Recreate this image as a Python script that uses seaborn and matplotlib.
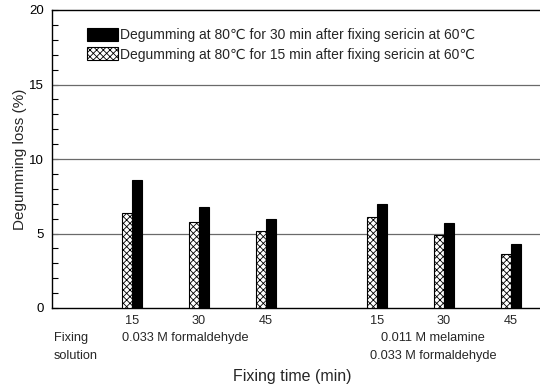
import matplotlib
matplotlib.use("Agg")
import matplotlib.pyplot as plt
import pandas as pd
import seaborn as sns
from matplotlib.patches import Patch
from matplotlib.ticker import MultipleLocator

# Fixing times (min) for the two fixing solutions
fixing_times = ["15", "30", "45", "15", "30", "45"]
# Degumming loss (%) after 15 min and 30 min of degumming
loss_15min = [6.4, 5.8, 5.2, 6.1, 4.9, 3.6]
loss_30min = [8.6, 6.8, 6.0, 7.0, 5.7, 4.3]
series_labels = [
    "Degumming at 80℃ for 15 min after fixing sericin at 60℃",
    "Degumming at 80℃ for 30 min after fixing sericin at 60℃",
]

# x positions of each bar pair (second solution group set apart)
slot = [0, 1, 2, 3.657, 4.657, 5.657]

sns.set_style("ticks")
plt.rcParams["font.family"] = ["Liberation Sans", "DejaVu Sans"]
plt.rcParams["hatch.linewidth"] = 0.6

df = pd.DataFrame({
    "slot": slot * 2,
    "loss": loss_15min + loss_30min,
    "series": [series_labels[0]] * 6 + [series_labels[1]] * 6,
})

W, H = 540, 387
fig = plt.figure(figsize=(W / 100, H / 100), dpi=100)
ax = fig.add_axes([52 / W, 1 - 308 / H, 490 / W, 298 / H])

sns.barplot(
    data=df, x="slot", y="loss", hue="series", hue_order=series_labels,
    native_scale=True, width=0.3, dodge=True, errorbar=None,
    palette=["white", "black"], edgecolor="black", linewidth=0.8,
    legend=False, ax=ax, zorder=3,
)

# cross-hatch the 15 min bars
for bar in ax.containers[0]:
    bar.set_hatch("xxxxx")
    try:
        bar.set_hatchcolor("#8a8a8a")
    except AttributeError:
        pass

ax.set_xlim(-1.194, 6.12)
ax.set_ylim(0, 20)
ax.yaxis.set_major_locator(MultipleLocator(5))
ax.yaxis.set_minor_locator(MultipleLocator(1))
ax.tick_params(axis="y", which="both", direction="in", length=4, width=0.8,
               labelsize=9.5, pad=6, colors="black")
ax.set_xticks(slot)
ax.set_xticklabels(fixing_times)
ax.tick_params(axis="x", length=0, labelsize=9.2, pad=5)

for y in (5, 10, 15):
    ax.axhline(y, color="#6a6a6a", lw=0.9, zorder=1)

for side in ("left", "bottom", "top"):
    ax.spines[side].set_color("black")
    ax.spines[side].set_linewidth(1.0)
ax.spines["right"].set_visible(False)

ax.set_xlabel("")
ax.set_ylabel("Degumming loss (%)", fontsize=11)
ax.yaxis.set_label_coords(-0.052, 0.5)

handles = [
    Patch(facecolor="black", edgecolor="black", linewidth=0.8),
    Patch(facecolor="white", edgecolor="black", linewidth=0.8, hatch="xxxxx"),
]
try:
    handles[1].set_hatchcolor("#8a8a8a")
except AttributeError:
    pass
fig.legend(
    handles, [series_labels[1], series_labels[0]],
    loc="upper left", bbox_to_anchor=(87 / W, 1 - 28 / H),
    frameon=False, fontsize=10, handlelength=2.2, handleheight=1.08,
    handletextpad=0.15, labelspacing=0.36, borderpad=0, borderaxespad=0,
)

def put(text, x, y, ha="left", size=9.2):
    fig.text(x / W, 1 - y / H, text, ha=ha, va="center", fontsize=size)

put("Fixing", 54, 338)
put("solution", 54, 356)
put("0.033 M formaldehyde", 122, 338)
put("0.011 M melamine", 433, 338, ha="center")
put("0.033 M formaldehyde", 433, 356, ha="center")
put("Fixing time (min)", 292, 376, ha="center", size=11.5)

fig.savefig("out.png", dpi=100)
